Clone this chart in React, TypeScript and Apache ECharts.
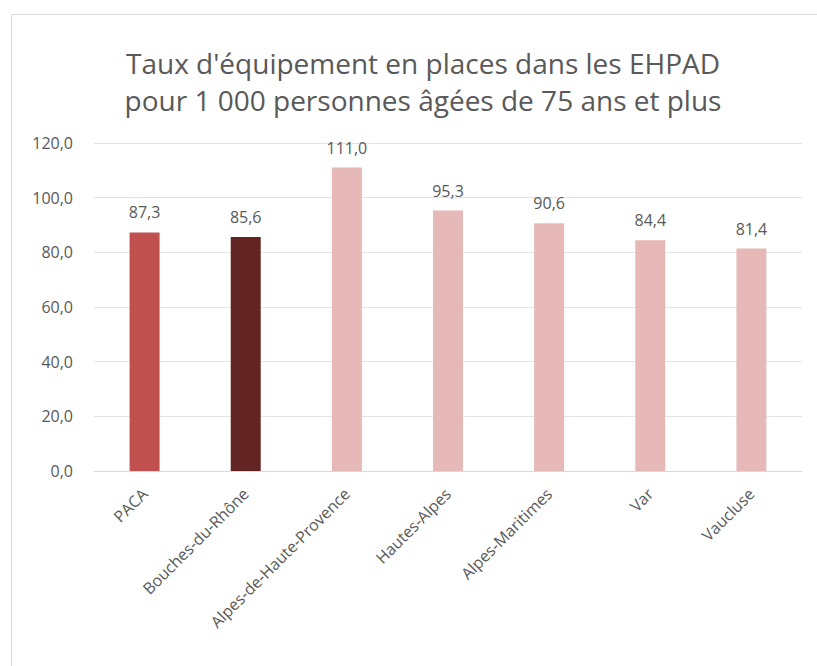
import React, { useEffect, useRef } from "react";
import * as echarts from "echarts";

const categories = [
  "PACA",
  "Bouches-du-Rhône",
  "Alpes-de-Haute-Provence",
  "Hautes-Alpes",
  "Alpes-Maritimes",
  "Var",
  "Vaucluse",
];
const values = [87.3, 85.6, 111.0, 95.3, 90.6, 84.4, 81.4];
const barColors = ["#C0504D", "#632523", "#E6B9B8", "#E6B9B8", "#E6B9B8", "#E6B9B8", "#E6B9B8"];
const titleLines = [
  "Taux d'équipement en places dans les EHPAD",
  "pour 1 000 personnes âgées de 75 ans et plus",
];

const fmt = (v: number) => v.toFixed(1).replace(".", ",");

export default function App() {
  const ref = useRef<HTMLDivElement>(null);
  useEffect(() => {
    if (!ref.current) return;
    const chart = echarts.init(ref.current, undefined, { renderer: "svg" });
    const font = "'Open Sans', 'Noto Sans', sans-serif";
    chart.setOption({
      animation: false,
      backgroundColor: "#ffffff",
      graphic: [
        {
          type: "rect",
          shape: { x: 11.5, y: 14.5, width: 830, height: 670 },
          style: { fill: "none", stroke: "#D9D9D9", lineWidth: 1 },
          silent: true,
        },
      ],
      title: {
        text: titleLines.join("\n"),
        left: 418,
        textAlign: "center",
        top: 39,
        textStyle: {
          fontFamily: font,
          fontSize: 28,
          fontWeight: "normal",
          color: "#595959",
          lineHeight: 37,
        },
      },
      grid: { left: 94, right: 15, top: 143, bottom: 195, containLabel: false },
      xAxis: {
        type: "category",
        data: categories,
        axisTick: { show: false },
        axisLine: { lineStyle: { color: "#D9D9D9" } },
        axisLabel: {
          rotate: 45,
          interval: 0,
          color: "#595959",
          fontFamily: font,
          fontSize: 16,
          margin: 20,
        },
      },
      yAxis: {
        type: "value",
        min: 0,
        max: 120,
        interval: 20,
        axisLine: { show: false },
        axisTick: { show: false },
        splitLine: { lineStyle: { color: "#E3E3E3" } },
        axisLabel: {
          formatter: (v: number) => fmt(v),
          color: "#595959",
          fontFamily: font,
          fontSize: 16,
          margin: 21,
        },
      },
      series: [
        {
          type: "bar",
          barWidth: 30,
          data: values.map((v, i) => ({ value: v, itemStyle: { color: barColors[i] } })),
          label: {
            show: true,
            position: "top",
            distance: 12,
            formatter: (p: any) => fmt(p.value),
            color: "#595959",
            fontFamily: font,
            fontSize: 16,
          },
        },
      ],
    });
    return () => chart.dispose();
  }, []);
  return (
    <div
      ref={ref}
      style={{ position: "fixed", left: 0, top: 0, width: 817, height: 666 }}
    />
  );
}
